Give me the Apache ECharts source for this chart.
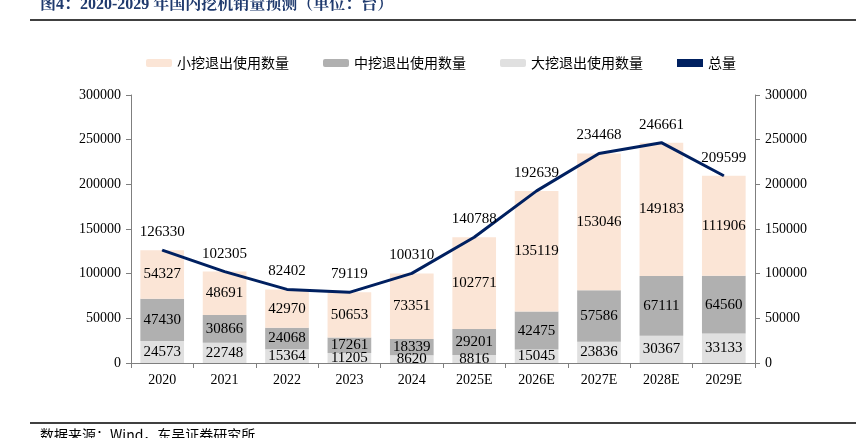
<!DOCTYPE html>
<html><head><meta charset="utf-8">
<script src="https://cdn.jsdelivr.net/npm/echarts@6/dist/echarts.min.js"></script>
<style>html,body{margin:0;padding:0;background:#fff;}#c{width:856px;height:438px;}</style>
</head><body><div id="c"></div>
<script>
const categories = ['2020','2021','2022','2023','2024','2025E','2026E','2027E','2028E','2029E'];
const smallExc = [54327,48691,42970,50653,73351,102771,135119,153046,149183,111906];
const midExc = [47430,30866,24068,17261,18339,29201,42475,57586,67111,64560];
const largeExc = [24573,22748,15364,11205,8620,8816,15045,23836,30367,33133];
const total = [126330,102305,82402,79119,100310,140788,192639,234468,246661,209599];

const serif = '"Liberation Serif","Times New Roman",serif';
const cjk = '"Noto Sans CJK SC",sans-serif';
const chart = echarts.init(document.getElementById('c'));
const barLabel = {show:true, position:'inside', color:'#000', fontFamily:serif, fontSize:15};
const axisLbl = {color:'#000', fontFamily:serif, fontSize:14, margin:10, formatter:v=>String(v)};
chart.setOption({
  animation:false,
  graphic:[
    {type:'text', left:40, top:-3, style:{text:'图4：2020-2029 年国内挖机销量预测（单位：台）', font:'bold 16px "Liberation Serif","Noto Serif CJK SC","Noto Sans CJK SC",serif', fill:'#1f3a6e'}},
    {type:'line', shape:{x1:30,y1:20,x2:856,y2:20}, style:{stroke:'#000', lineWidth:1.5}},
    {type:'line', shape:{x1:30,y1:423,x2:856,y2:423}, style:{stroke:'#000', lineWidth:1.5}},
    {type:'text', left:40, top:428, style:{text:'数据来源：Wind，东吴证券研究所', font:'14px "Noto Sans CJK SC",sans-serif', fill:'#000'}}
  ],
  legend:{
    top:51, left:141, itemWidth:26, itemHeight:8, itemGap:34,
    textStyle:{fontFamily:cjk, fontSize:14, color:'#000'},
    data:[{name:'小挖退出使用数量'},{name:'中挖退出使用数量'},{name:'大挖退出使用数量'},{name:'总量', icon:'rect'}]
  },
  grid:{left:131, right:101, top:95, bottom:75},
  xAxis:{
    type:'category', data:categories,
    axisLine:{lineStyle:{color:'#7f7f7f'}},
    axisTick:{show:true, alignWithLabel:false, lineStyle:{color:'#7f7f7f'}},
    axisLabel:{color:'#000', fontFamily:serif, fontSize:14, margin:10}
  },
  yAxis:[
    {type:'value', min:0, max:300000, interval:50000,
     axisLine:{show:true, lineStyle:{color:'#7f7f7f'}}, axisTick:{show:true, lineStyle:{color:'#7f7f7f'}},
     splitLine:{show:false}, axisLabel:axisLbl},
    {type:'value', min:0, max:300000, interval:50000, position:'right',
     axisLine:{show:true, lineStyle:{color:'#7f7f7f'}}, axisTick:{show:true, lineStyle:{color:'#7f7f7f'}},
     splitLine:{show:false}, axisLabel:axisLbl}
  ],
  series:[
    {name:'大挖退出使用数量', type:'bar', stack:'s', data:largeExc, barWidth:'70%', itemStyle:{color:'#e0e0e0'}, label:barLabel},
    {name:'中挖退出使用数量', type:'bar', stack:'s', data:midExc, itemStyle:{color:'#b0b0b0'}, label:barLabel},
    {name:'小挖退出使用数量', type:'bar', stack:'s', data:smallExc, itemStyle:{color:'#fbe5d6'}, label:barLabel},
    {name:'总量', type:'line', data:total, symbol:'circle', symbolSize:1, showSymbol:true,
     lineStyle:{color:'#002060', width:3}, itemStyle:{color:'#002060'}, z:5,
     label:{show:true, position:'top', distance:10, color:'#000', fontFamily:serif, fontSize:15}}
  ]
});
</script></body></html>
